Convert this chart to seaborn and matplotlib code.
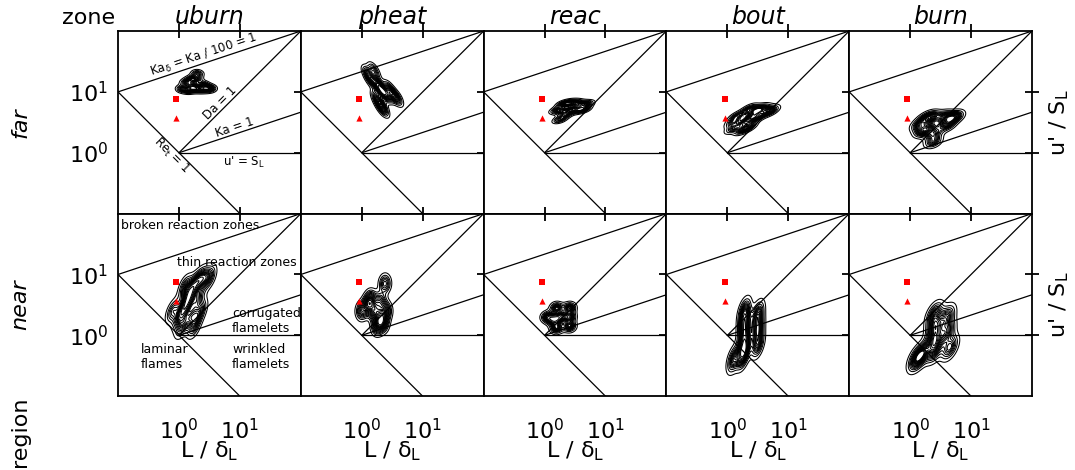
import numpy as np
import pandas as pd
import matplotlib
matplotlib.use("Agg")
import matplotlib.pyplot as plt
from matplotlib.ticker import FixedLocator, NullLocator
import seaborn as sns

# ---------------------------------------------------------------- data
zones = ["uburn", "pheat", "reac", "bout", "burn"]
regions = ["far", "near"]

# reference operating points (L / delta_L, u' / S_L)
square_pt = [0.9, 7.6]
triangle_pt = [0.9, 3.7]

# sampled turbulence states per region / zone
far_uburn_L = [1.12, 1.41, 1.78, 2.24, 2.82, 3.31, 1.32, 1.58, 1.91, 2.00, 2.51, 1.66]
far_uburn_u = [11.2, 10.7, 11.2, 11.0, 11.2, 11.5, 14.1, 15.8, 16.6, 20.0, 13.2, 12.6]

far_pheat_L = [1.26, 1.41, 1.58, 1.78, 2.00, 2.24, 2.51, 3.16, 3.80, 2.00, 2.24, 2.82, 1.78]
far_pheat_u = [20.0, 15.8, 22.4, 14.1, 11.2, 10.0, 8.9, 8.9, 7.9, 6.3, 5.2, 11.2, 7.9]

far_reac_L = [2.00, 2.51, 3.16, 3.98, 5.00, 2.82, 3.55, 2.00, 1.58, 1.78, 2.24, 4.47]
far_reac_u = [6.3, 6.6, 6.6, 6.3, 6.3, 5.2, 5.0, 4.8, 5.0, 3.5, 4.2, 5.2]

far_bout_L = [2.24, 2.82, 3.55, 4.47, 5.25, 2.51, 3.16, 2.00, 1.41, 1.26, 1.26, 1.78, 2.24]
far_bout_u = [5.25, 5.00, 5.25, 5.00, 4.79, 3.98, 3.80, 3.16, 3.98, 3.16, 2.51, 2.40, 2.63]

far_burn_L = [1.41, 1.78, 2.00, 1.58, 2.24, 2.40, 2.40, 3.55, 4.47, 5.62, 3.98]
far_burn_u = [2.82, 3.55, 2.51, 2.24, 3.98, 2.00, 1.51, 3.98, 3.55, 3.98, 2.82]

near_uburn_L = [0.79, 1.00, 1.12, 1.26, 1.58, 1.78, 1.41, 1.58, 2.00, 2.51, 3.16, 2.00, 1.26, 2.24]
near_uburn_u = [2.51, 2.00, 1.41, 2.82, 2.00, 1.41, 3.98, 5.62, 7.94, 8.91, 8.91, 3.98, 6.31, 2.51]

near_pheat_L = [1.26, 1.58, 2.00, 2.24, 1.78, 2.51, 1.41, 1.00, 2.00, 2.40]
near_pheat_u = [3.16, 2.51, 2.00, 1.58, 1.41, 2.51, 3.98, 2.51, 3.55, 7.08]

near_reac_L = [1.12, 1.41, 1.58, 1.78, 1.58, 2.57, 2.57, 2.57]
near_reac_u = [2.00, 1.78, 2.82, 2.00, 1.32, 2.82, 2.00, 1.41]

near_bout_L = [1.91, 1.91, 1.91, 1.91, 1.78, 3.16, 3.16, 3.16, 1.26]
near_bout_u = [2.51, 1.58, 1.00, 0.63, 0.45, 2.24, 1.26, 0.71, 0.40]

near_burn_L = [2.51, 2.51, 2.51, 2.51, 3.98, 3.98, 4.47, 1.58, 1.26]
near_burn_u = [2.24, 1.41, 0.89, 0.56, 2.00, 1.12, 0.63, 0.50, 0.40]

clouds = {
    ("far", "uburn"): (far_uburn_L, far_uburn_u),
    ("far", "pheat"): (far_pheat_L, far_pheat_u),
    ("far", "reac"): (far_reac_L, far_reac_u),
    ("far", "bout"): (far_bout_L, far_bout_u),
    ("far", "burn"): (far_burn_L, far_burn_u),
    ("near", "uburn"): (near_uburn_L, near_uburn_u),
    ("near", "pheat"): (near_pheat_L, near_pheat_u),
    ("near", "reac"): (near_reac_L, near_reac_u),
    ("near", "bout"): (near_bout_L, near_bout_u),
    ("near", "burn"): (near_burn_L, near_burn_u),
}

axis_lim = [0.1, 100.0]
tick_vals = [1.0, 10.0]

# ---------------------------------------------------------------- style
sns.set_style("white")
plt.rcParams["font.family"] = ["DejaVu Sans"]
plt.rcParams["mathtext.default"] = "regular"
plt.rcParams["axes.linewidth"] = 1.3
plt.rcParams["text.color"] = "black"
plt.rcParams["axes.labelcolor"] = "black"
plt.rcParams["axes.titlecolor"] = "black"
plt.rcParams["xtick.color"] = "black"
plt.rcParams["ytick.color"] = "black"

fig, axes = plt.subplots(2, 5, figsize=(10.75, 4.7), dpi=100, sharex=True, sharey=True)
fig.subplots_adjust(left=0.1098, right=0.960, top=0.934, bottom=0.157, wspace=0, hspace=0)


def regime_lines(ax):
    """Borghi-Peters regime boundaries in (L/delta_L, u'/S_L)."""
    L_all = np.array([0.1, 100.0])
    L_hi = np.array([1.0, 100.0])
    L_re = np.array([0.1, 10.0])
    kw = dict(color="black", lw=0.9, zorder=2)
    ax.plot(L_all, 100.0 ** (2 / 3) * L_all ** (1 / 3), **kw)   # Ka_delta = 1
    ax.plot(L_hi, L_hi, **kw)                                   # Da = 1
    ax.plot(L_hi, L_hi ** (1 / 3), **kw)                        # Ka = 1
    ax.plot(L_hi, np.ones_like(L_hi), **kw)                     # u' = S_L
    ax.plot(L_re, 1.0 / L_re, **kw)                             # Re_t = 1


for r, region in enumerate(regions):
    for c, zone in enumerate(zones):
        ax = axes[r, c]
        Lv, uv = clouds[(region, zone)]
        df = pd.DataFrame({"L": Lv, "u": uv})
        regime_lines(ax)
        sns.kdeplot(data=df, x="L", y="u", log_scale=True, levels=16, thresh=0.05,
                    bw_adjust=0.7, color="black", linewidths=0.75, ax=ax, zorder=3)
        ax.scatter([square_pt[0]], [square_pt[1]], marker="s", s=22, color="red",
                   linewidths=0, zorder=5)
        ax.scatter([triangle_pt[0]], [triangle_pt[1]], marker="^", s=20, color="red",
                   linewidths=0, zorder=5)
        ax.set_xscale("log")
        ax.set_yscale("log")
        ax.set_xlim(axis_lim)
        ax.set_ylim(axis_lim)
        ax.xaxis.set_major_locator(FixedLocator(tick_vals))
        ax.yaxis.set_major_locator(FixedLocator(tick_vals))
        ax.xaxis.set_minor_locator(NullLocator())
        ax.yaxis.set_minor_locator(NullLocator())
        ax.tick_params(which="major", direction="inout", length=10, width=1.3,
                       top=True, right=True, labelsize=16, colors="black")
        ax.tick_params(axis="x", pad=11)
        ax.tick_params(axis="y", pad=2)
        ax.set_xlabel("")
        ax.set_ylabel("")
        for s in ax.spines.values():
            s.set_color("black")
        if r == 0:
            ax.set_title(zone, fontsize=17, style="italic", pad=5)
        if r == 1:
            ax.set_xlabel("L / δ$_L$", fontsize=16, labelpad=-3)
    # response axis name on the right of each row
    axes[r, 4].text(1.15, 0.5, "u' / S$_L$", transform=axes[r, 4].transAxes,
                    rotation=90, fontsize=16, ha="center", va="center")

# line labels
a = axes[0, 0]
tk = dict(fontsize=8.5, rotation_mode="anchor", ha="center")
a.text(10 ** 0.44, 10 ** 1.48, "Ka$_δ$ = Ka / 100 = 1", rotation=18.4, va="bottom", **tk)
a.text(10 ** 0.745, 10 ** 0.745, "Da = 1", rotation=45, va="bottom", **tk)
a.text(10 ** 0.95, 10 ** 0.317, "Ka = 1", rotation=18.4, va="bottom", **tk)
a.text(10 ** -0.04, 10 ** 0.04, "Re$_t$ = 1", rotation=-45, va="top", **tk)
a.text(10 ** 1.07, 10 ** -0.03, "u' = S$_L$", rotation=0, va="top", **tk)

# regime names
b = axes[1, 0]
rk = dict(fontsize=9, multialignment="left")
b.text(0.112, 83, "broken reaction zones", ha="left", va="top", **rk)
b.text(10 ** 0.95, 10 ** 1.20, "thin reaction zones", ha="center", va="center", **rk)
b.text(10 ** 0.87, 10 ** 0.23, "corrugated\nflamelets", ha="left", va="center", **rk)
b.text(10 ** -0.62, 10 ** -0.36, "laminar\nflames", ha="left", va="center", **rk)
b.text(10 ** 0.87, 10 ** -0.36, "wrinkled\nflamelets", ha="left", va="center", **rk)

# facet variable names
fig.text(0.082, 0.962, "zone", fontsize=16, ha="center", va="center")
fig.text(0.019, 0.082, "region", fontsize=16, ha="center", va="center", rotation=90)
fig.text(0.019, 0.740, "far", fontsize=16, ha="center", va="center", rotation=90,
         style="italic")
fig.text(0.019, 0.352, "near", fontsize=16, ha="center", va="center", rotation=90,
         style="italic")

fig.savefig("out.png", dpi=100)
